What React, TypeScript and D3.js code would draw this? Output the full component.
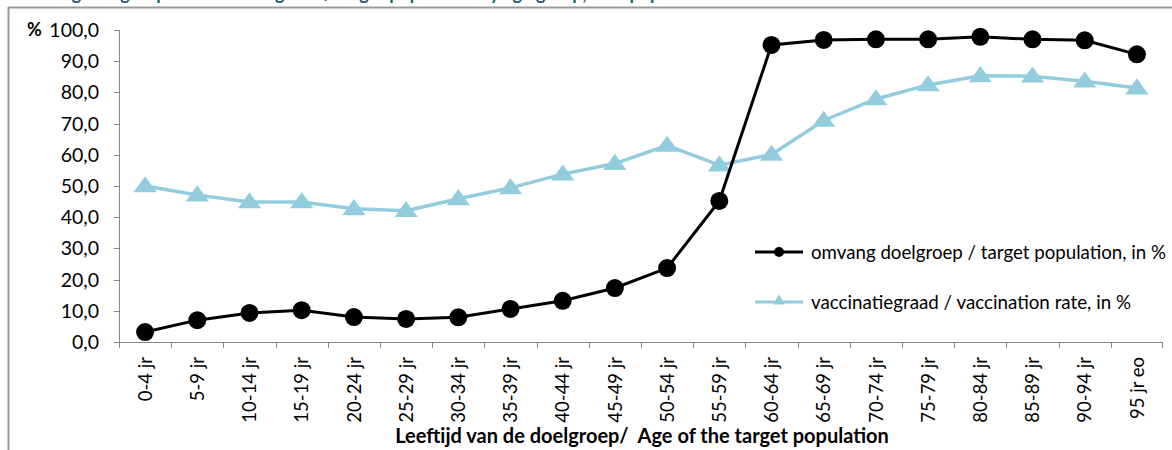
import React from 'react';
import * as d3 from 'd3';

const W = 1172;
const H = 450;

// leeftijdsgroepen
const ageGroups = [
  '0-4 jr', '5-9 jr', '10-14 jr', '15-19 jr', '20-24 jr', '25-29 jr', '30-34 jr',
  '35-39 jr', '40-44 jr', '45-49 jr', '50-54 jr', '55-59 jr', '60-64 jr', '65-69 jr',
  '70-74 jr', '75-79 jr', '80-84 jr', '85-89 jr', '90-94 jr', '95 jr eo',
];

// omvang doelgroep / target population, in %
const targetPopulation = [
  3.2, 7.0, 9.3, 10.2, 8.0, 7.4, 7.9, 10.6, 13.2, 17.3,
  23.7, 45.2, 95.2, 96.8, 97.0, 97.0, 97.8, 97.0, 96.7, 92.2,
];

// vaccinatiegraad / vaccination rate, in %
const vaccinationRate = [
  50.0, 47.1, 44.9, 44.9, 42.7, 42.1, 45.9, 49.4, 53.8, 57.2,
  63.0, 56.7, 60.1, 71.0, 77.9, 82.4, 85.3, 85.2, 83.6, 81.4,
];

const yTicks = [0, 10, 20, 30, 40, 50, 60, 70, 80, 90, 100];

const legendItems = [
  { label: 'omvang doelgroep / target population, in %', color: '#000000', shape: 'circle', width: 355 },
  { label: 'vaccinatiegraad / vaccination rate, in %', color: '#93CDDD', shape: 'triangle', width: 320 },
];

const FONT = 'Lato, "Open Sans", sans-serif';
const AXIS = '#868686';

export default function App() {
  const x0 = 119, x1 = 1163, y0 = 342, y1 = 30;

  const x = d3.scaleBand<string>().domain(ageGroups).range([x0, x1]);
  const y = d3.scaleLinear().domain([0, 100]).range([y0, y1]);
  const cx = (i: number) => (x(ageGroups[i]) as number) + x.bandwidth() / 2;

  const line = d3.line<number>().x((_, i) => cx(i)).y(d => y(d));
  const tri = d3.symbol().type(d3.symbolTriangle).size(150)();

  return (
    <svg width={W} height={H} style={{ position: 'absolute', left: 0, top: 0, background: '#fff' }}>
      {/* titel, bovenaan afgesneden zoals in het origineel */}
      <text x={14} y={0} fill="#215968" fontFamily={FONT} fontWeight="bold" fontSize={18}>
        Omvang doelgroep en vaccinatiegraad / target population by age group, in % population
      </text>
      {/* kader */}
      <line x1={8} x2={W} y1={7.5} y2={7.5} stroke="#9a9a9a" strokeWidth={2} />
      <line x1={8.5} x2={8.5} y1={7} y2={H} stroke="#9a9a9a" strokeWidth={2} />

      {/* y-as */}
      <line x1={x0 + 0.5} x2={x0 + 0.5} y1={y1} y2={y0} stroke={AXIS} />
      {yTicks.map(t => (
        <g key={t}>
          <line x1={x0 - 5} x2={x0} y1={Math.round(y(t)) + 0.5} y2={Math.round(y(t)) + 0.5} stroke={AXIS} />
          <text x={99} y={y(t)} dy="0.36em" textAnchor="end" fontFamily={FONT} fontSize={19.5} fill="#000">
            {d3.format('.1f')(t).replace('.', ',')}
          </text>
        </g>
      ))}
      <text x={27} y={y(100)} dy="0.36em" fontFamily={FONT} fontWeight="bold" fontSize={18}>%</text>

      {/* x-as */}
      <line x1={x0} x2={x1} y1={y0 + 0.5} y2={y0 + 0.5} stroke={AXIS} />
      {ageGroups.map(g => (
        <line key={g} x1={Math.round(x(g) as number) + 0.5} x2={Math.round(x(g) as number) + 0.5} y1={y0} y2={y0 + 6} stroke={AXIS} />
      ))}
      <line x1={x1 - 0.5} x2={x1 - 0.5} y1={y0} y2={y0 + 6} stroke={AXIS} />
      {ageGroups.map((g, i) => (
        <text key={g} transform={`translate(${cx(i)},${y0 + 15}) rotate(-90)`} textAnchor="end" dy="0.36em"
          fontFamily={FONT} fontSize={18.5} fill="#000">{g}</text>
      ))}
      <text x={642} y={443} textAnchor="middle" fontFamily={FONT} fontWeight="bold" fontSize={20} style={{ whiteSpace: 'pre' }}>
        {'Leeftijd van de doelgroep/  Age of the target population'}
      </text>

      {/* vaccinatiegraad */}
      <path d={line(vaccinationRate) || ''} fill="none" stroke="#93CDDD" strokeWidth={3.5} />
      {vaccinationRate.map((v, i) => (
        <path key={i} d={tri || ''} transform={`translate(${cx(i)},${y(v) + 1}) scale(1.25,1)`} fill="#93CDDD" />
      ))}

      {/* doelgroep */}
      <path d={line(targetPopulation) || ''} fill="none" stroke="#000" strokeWidth={3} />
      {targetPopulation.map((v, i) => (
        <circle key={i} cx={cx(i)} cy={y(v)} r={9} fill="#000" />
      ))}

      {/* legenda */}
      {legendItems.map((l, i) => {
        const ly = 252 + i * 50;
        return (
          <g key={l.label}>
            <line x1={755} x2={803} y1={ly} y2={ly} stroke={l.color} strokeWidth={3} />
            {l.shape === 'circle'
              ? <circle cx={779} cy={ly} r={5} fill={l.color} />
              : <path d={d3.symbol().type(d3.symbolTriangle).size(60)() || ''} transform={`translate(779,${ly - 1})`} fill={l.color} />}
            <text x={811} y={ly} dy="0.36em" fontFamily={FONT} fontSize={18.8} fill="#000"
              textLength={l.width} lengthAdjust="spacingAndGlyphs">{l.label}</text>
          </g>
        );
      })}
    </svg>
  );
}
